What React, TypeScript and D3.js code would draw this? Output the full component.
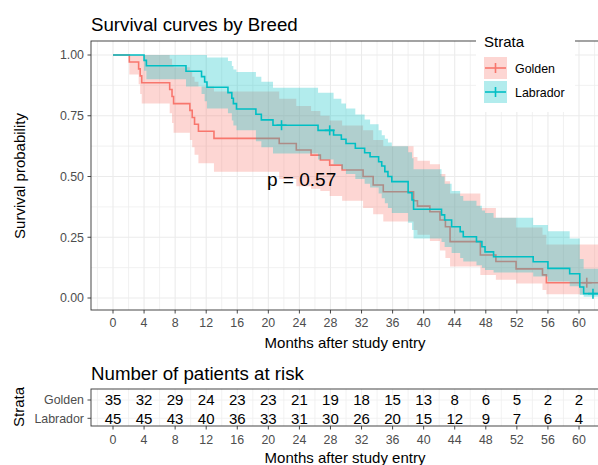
import React from "react";
import * as d3 from "d3";

// ---------- data ----------
const goldenTime = [0, 2.1, 3.3, 3.5, 3.7, 7.3, 7.6, 7.8, 9.9, 10.2, 10.5, 11.0, 13.0, 21.4, 23.6, 25.5, 26.7, 27.9, 29.5, 32.2, 33.5, 34.8, 38.7, 39.2, 40.8, 42.1, 42.8, 43.4, 47.3, 49.3, 51.9, 55.3, 55.8, 63.5];
const goldenSurv = [1, 0.971, 0.943, 0.914, 0.886, 0.858, 0.829, 0.8, 0.772, 0.743, 0.715, 0.686, 0.657, 0.636, 0.609, 0.588, 0.568, 0.547, 0.527, 0.5, 0.465, 0.437, 0.4, 0.378, 0.355, 0.321, 0.293, 0.232, 0.177, 0.15, 0.12, 0.095, 0.063, 0.063];
const goldenLower = [1, 0.92, 0.88, 0.84, 0.8, 0.76, 0.72, 0.68, 0.65, 0.62, 0.59, 0.555, 0.52, 0.49, 0.46, 0.45, 0.44, 0.42, 0.4, 0.37, 0.345, 0.315, 0.28, 0.26, 0.235, 0.195, 0.165, 0.13, 0.095, 0.075, 0.06, 0.033, 0.015, 0.015];
const goldenUpper = [1, 1, 1, 1, 1, 0.985, 0.96, 0.95, 0.93, 0.91, 0.89, 0.87, 0.85, 0.82, 0.79, 0.77, 0.75, 0.73, 0.71, 0.69, 0.65, 0.625, 0.58, 0.565, 0.55, 0.51, 0.48, 0.43, 0.37, 0.33, 0.29, 0.26, 0.22, 0.22];
const goldenCensor = [61.0];

const labradorTime = [0, 4.0, 4.3, 9.4, 11.4, 11.8, 12.1, 14.8, 15.3, 15.5, 15.9, 18.4, 19.1, 20.6, 26.4, 28.4, 29.4, 30.0, 31.2, 32.4, 33.1, 34.2, 34.6, 35.0, 35.4, 35.9, 38.0, 38.5, 38.7, 42.3, 42.7, 43.6, 44.7, 45.1, 46.8, 47.5, 47.9, 49.0, 54.1, 56.0, 58.8, 60.1, 60.6, 63.5];
const labradorSurv = [1, 0.978, 0.956, 0.933, 0.911, 0.889, 0.867, 0.845, 0.822, 0.8, 0.778, 0.756, 0.733, 0.711, 0.69, 0.671, 0.653, 0.636, 0.616, 0.598, 0.581, 0.561, 0.543, 0.52, 0.5, 0.479, 0.433, 0.403, 0.365, 0.342, 0.321, 0.293, 0.273, 0.252, 0.232, 0.211, 0.19, 0.17, 0.149, 0.122, 0.1, 0.045, 0.018, 0.018];
const labradorLower = [1, 0.935, 0.9, 0.87, 0.84, 0.81, 0.78, 0.76, 0.73, 0.71, 0.69, 0.645, 0.62, 0.595, 0.57, 0.55, 0.53, 0.51, 0.49, 0.47, 0.455, 0.43, 0.41, 0.39, 0.37, 0.35, 0.31, 0.28, 0.245, 0.23, 0.21, 0.185, 0.165, 0.15, 0.135, 0.125, 0.115, 0.105, 0.088, 0.068, 0.048, 0.012, 0.005, 0.005];
const labradorUpper = [1, 1, 1, 1, 1, 1, 0.99, 0.975, 0.955, 0.94, 0.93, 0.91, 0.89, 0.865, 0.845, 0.82, 0.8, 0.78, 0.755, 0.735, 0.715, 0.69, 0.67, 0.655, 0.64, 0.625, 0.6, 0.575, 0.53, 0.5, 0.47, 0.44, 0.42, 0.4, 0.38, 0.36, 0.35, 0.33, 0.3, 0.275, 0.245, 0.16, 0.12, 0.12];
const labradorCensor = [21.7, 27.9, 61.8];

const riskTimes = [0, 4, 8, 12, 16, 20, 24, 28, 32, 36, 40, 44, 48, 52, 56, 60];
const goldenRisk = [35, 32, 29, 24, 23, 23, 21, 19, 18, 15, 13, 8, 6, 5, 2, 2];
const labradorRisk = [45, 45, 43, 40, 36, 33, 31, 30, 26, 20, 15, 12, 9, 7, 6, 4];

const strataNames = ["Golden", "Labrador"];
const strataColors = ["#F8766D", "#00BFC4"];
const yTicks = [0, 0.25, 0.5, 0.75, 1.0];
const pValueText = "p = 0.57";

const FONT = "'Liberation Sans', Arial, sans-serif";

export default function App() {
  const W = 598, H = 465;
  const x = d3.scaleLinear().domain([0, 60]).range([113, 579]);
  const y = d3.scaleLinear().domain([0, 1]).range([298, 55]);
  const panel = { left: 91, right: 640, top: 41, bottom: 310 };
  const rp = { top: 389, bottom: 426 };
  const yRisk = d3.scalePoint().domain(["Labrador", "Golden"]).range([418.3, 400]);

  const groups = [
    { name: "Golden", color: strataColors[0], t: goldenTime, s: goldenSurv, lo: goldenLower, hi: goldenUpper, c: goldenCensor },
    { name: "Labrador", color: strataColors[1], t: labradorTime, s: labradorSurv, lo: labradorLower, hi: labradorUpper, c: labradorCensor },
  ];

  const line = d3.line<[number, number]>().x((d) => x(d[0])).y((d) => y(d[1])).curve(d3.curveStepAfter);
  const area = d3
    .area<[number, number, number]>()
    .x((d) => x(d[0]))
    .y0((d) => y(d[1]))
    .y1((d) => y(d[2]))
    .curve(d3.curveStepAfter);

  const survAt = (g: any, tt: number) => {
    let v = 1;
    for (let i = 0; i < g.t.length; i++) if (g.t[i] <= tt) v = g.s[i];
    return v;
  };

  const majorX = d3.range(0, 64, 4);
  const minorX = d3.range(-2, 66, 4);
  const majorY = yTicks;
  const minorY = [0.125, 0.375, 0.625, 0.875];

  const cross = (cx: number, cy: number, color: string, key: string, sz = 5) => (
    <g key={key} stroke={color} strokeWidth={1.6}>
      <line x1={cx - sz} x2={cx + sz} y1={cy} y2={cy} />
      <line x1={cx} x2={cx} y1={cy - sz} y2={cy + sz} />
    </g>
  );

  return (
    <svg width={W} height={H} style={{ position: "absolute", left: 0, top: 0, background: "#fff" }} fontFamily={FONT}>
      <defs>
        <clipPath id="mainclip">
          <rect x={panel.left} y={panel.top} width={panel.right - panel.left} height={panel.bottom - panel.top} />
        </clipPath>
      </defs>
      {/* title */}
      <text x={91} y={31} fontSize={18.7} fill="#000">Survival curves by Breed</text>

      {/* grid */}
      <g clipPath="url(#mainclip)">
        {minorX.map((v) => (
          <line key={"mx" + v} x1={x(v)} x2={x(v)} y1={panel.top} y2={panel.bottom} stroke="#EDEDED" strokeWidth={0.8} />
        ))}
        {minorY.map((v) => (
          <line key={"my" + v} x1={panel.left} x2={panel.right} y1={y(v)} y2={y(v)} stroke="#EDEDED" strokeWidth={0.8} />
        ))}
        {majorX.map((v) => (
          <line key={"Mx" + v} x1={x(v)} x2={x(v)} y1={panel.top} y2={panel.bottom} stroke="#EBEBEB" strokeWidth={1.1} />
        ))}
        {majorY.map((v) => (
          <line key={"My" + v} x1={panel.left} x2={panel.right} y1={y(v)} y2={y(v)} stroke="#EBEBEB" strokeWidth={1.1} />
        ))}

        {groups.map((g) => (
          <g key={g.name}>
            <path d={area(g.t.map((tt: number, i: number) => [tt, g.lo[i], g.hi[i]]) as any) || ""} fill={g.color} fillOpacity={0.3} stroke="none" />
            <path d={line(g.t.map((tt: number, i: number) => [tt, g.s[i]]) as any) || ""} fill="none" stroke={g.color} strokeWidth={1.6} />
            {g.c.map((ct: number, i: number) => cross(x(ct), y(survAt(g, ct)), g.color, g.name + "c" + i))}
          </g>
        ))}
      </g>

      {/* panel border */}
      <rect x={panel.left} y={panel.top} width={panel.right - panel.left} height={panel.bottom - panel.top} fill="none" stroke="#333" strokeWidth={0.9} />

      {/* y axis */}
      {yTicks.map((v) => (
        <g key={"yt" + v}>
          <line x1={panel.left - 3.5} x2={panel.left} y1={y(v)} y2={y(v)} stroke="#333" strokeWidth={0.9} />
          <text x={84} y={y(v) + 4.4} textAnchor="end" fontSize={12.4} fill="#4D4D4D">{v.toFixed(2)}</text>
        </g>
      ))}
      <text transform={`translate(25,176) rotate(-90)`} textAnchor="middle" fontSize={15} fill="#000">Survival probability</text>

      {/* x axis */}
      {majorX.map((v) => (
        <g key={"xt" + v}>
          <line x1={x(v)} x2={x(v)} y1={panel.bottom} y2={panel.bottom + 3.5} stroke="#333" strokeWidth={0.9} />
          <text x={x(v)} y={326.5} textAnchor="middle" fontSize={12.4} fill="#4D4D4D">{v}</text>
        </g>
      ))}
      <text x={345} y={347.5} textAnchor="middle" fontSize={15} fill="#000">Months after study entry</text>

      {/* p value */}
      <text x={267} y={186} fontSize={19} fill="#000">{pValueText}</text>

      {/* legend */}
      <rect x={476} y={28} width={99} height={84} fill="#fff" />
      <text x={484} y={47} fontSize={15} fill="#000">Strata</text>
      {strataNames.map((nm, i) => {
        const ky = 57 + i * 24;
        return (
          <g key={"lg" + nm}>
            <rect x={484} y={ky} width={23} height={22} fill={strataColors[i]} fillOpacity={0.3} />
            <line x1={485} x2={506} y1={ky + 11} y2={ky + 11} stroke={strataColors[i]} strokeWidth={1.6} />
            <line x1={495.5} x2={495.5} y1={ky + 6} y2={ky + 16} stroke={strataColors[i]} strokeWidth={1.6} />
            <text x={515} y={ky + 15.5} fontSize={12.4} fill="#000">{nm}</text>
          </g>
        );
      })}

      {/* risk table */}
      <text x={91} y={380} fontSize={18.7} fill="#000">Number of patients at risk</text>
      {minorX.concat(majorX).map((v, i) => (
        <line key={"rg" + i} x1={x(v)} x2={x(v)} y1={rp.top} y2={rp.bottom} stroke="#EFEFEF" strokeWidth={0.8} />
      ))}
      {strataNames.map((nm) => (
        <line key={"rh" + nm} x1={panel.left} x2={panel.right} y1={yRisk(nm)!} y2={yRisk(nm)!} stroke="#EFEFEF" strokeWidth={0.8} />
      ))}
      <rect x={panel.left} y={rp.top} width={panel.right - panel.left} height={rp.bottom - rp.top} fill="none" stroke="#333" strokeWidth={0.9} />
      {riskTimes.map((tt, i) => (
        <g key={"rk" + tt}>
          <text x={x(tt)} y={yRisk("Golden")! + 5.4} textAnchor="middle" fontSize={15} fill="#000">{goldenRisk[i]}</text>
          <text x={x(tt)} y={yRisk("Labrador")! + 5.4} textAnchor="middle" fontSize={15} fill="#000">{labradorRisk[i]}</text>
          <line x1={x(tt)} x2={x(tt)} y1={rp.bottom} y2={rp.bottom + 3.5} stroke="#333" strokeWidth={0.9} />
          <text x={x(tt)} y={444} textAnchor="middle" fontSize={12.4} fill="#4D4D4D">{tt}</text>
        </g>
      ))}
      {strataNames.map((nm) => (
        <g key={"ry" + nm}>
          <line x1={panel.left - 3.5} x2={panel.left} y1={yRisk(nm)!} y2={yRisk(nm)!} stroke="#333" strokeWidth={0.9} />
          <text x={84} y={yRisk(nm)! + 4.4} textAnchor="end" fontSize={12.4} fill="#4D4D4D">{nm}</text>
        </g>
      ))}
      <text transform={`translate(24,407) rotate(-90)`} textAnchor="middle" fontSize={15} fill="#000">Strata</text>
      <text x={345} y={463} textAnchor="middle" fontSize={15} fill="#000">Months after study entry</text>
    </svg>
  );
}
